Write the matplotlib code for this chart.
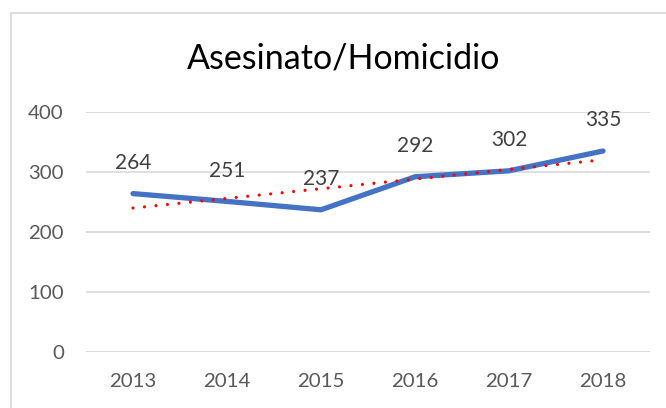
import numpy as np
import matplotlib
matplotlib.use('Agg')
import matplotlib.pyplot as plt
from matplotlib.patches import Rectangle

# Asesinato/Homicidio per year
years = ['2013', '2014', '2015', '2016', '2017', '2018']
values = [264, 251, 237, 292, 302, 335]
yticks = [0, 100, 200, 300, 400]

plt.rcParams['font.family'] = ['Lato', 'DejaVu Sans']

fig = plt.figure(figsize=(6.66, 4.08), dpi=100)
ax = fig.add_axes([86 / 666, 1 - 352 / 408, 564 / 666, 240 / 408])

x = np.arange(len(years))
ax.plot(x, values, color='#4472C4', lw=3.8, solid_capstyle='round',
        solid_joinstyle='round', zorder=3)

# linear trendline (like Excel's)
m, b = np.polyfit(x, values, 1)
trend = m * x + b
ax.plot(x, trend, color='#FF0000', lw=2.3, linestyle=(0, (0.01, 3.6)),
        dash_capstyle='round', zorder=4)

for xi, v in zip(x, values):
    ax.annotate(str(v), (xi, v), xytext=(0, 22), textcoords='offset points',
                ha='center', va='center', fontsize=15, color='#404040')

ax.set_xlim(-0.5, len(years) - 0.5)
ax.set_ylim(0, 400)
ax.set_yticks(yticks)
ax.set_xticks(x)
ax.set_xticklabels(years)
ax.grid(axis='y', color='#D9D9D9', lw=1.2)
ax.set_axisbelow(True)
for s in ax.spines.values():
    s.set_visible(False)
ax.tick_params(length=0, labelsize=14.7, labelcolor='#595959')
ax.tick_params(axis='y', pad=16)
ax.tick_params(axis='x', pad=15)

fig.text(344 / 666, 1 - 58 / 408, 'Asesinato/Homicidio',
         ha='center', va='center', fontsize=24.5, color='#000000')

# chart area border (cropped at right/bottom)
fig.patches.append(Rectangle((11 / 666, -0.1), 1.2, 1 - 13 / 408 + 0.1,
                             transform=fig.transFigure, fill=False,
                             edgecolor='#D9D9D9', lw=1.3))

fig.savefig('out.png', dpi=100)
